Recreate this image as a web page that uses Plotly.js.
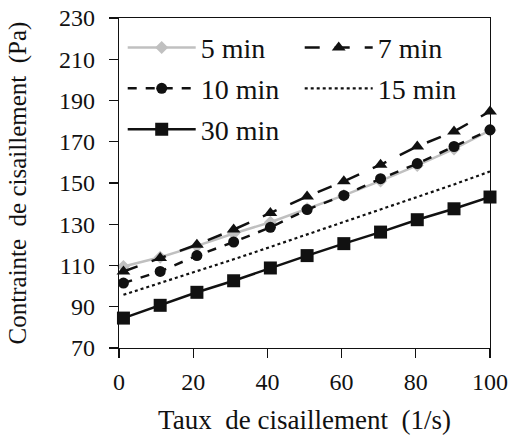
<!DOCTYPE html>
<html>
<head>
<meta charset="utf-8">
<script src="https://cdn.plot.ly/plotly-3.0.1.min.js"></script>
<style>html,body{margin:0;padding:0;background:#fff;}#chart{width:522px;height:442px;}</style>
</head>
<body>
<div id="chart"></div>
<script>
// Shear rate (1/s)
const shearRate = [1.2, 11.1, 21.0, 30.9, 40.8, 50.7, 60.6, 70.5, 80.4, 90.3, 100];
// Shear stress (Pa) per resting time
const stress5  = [109.5, 114.0, 119.5, 125.5, 131.0, 137.5, 144.0, 151.0, 158.5, 166.5, 175.5];
const stress7  = [107.1, 113.6, 120.1, 127.4, 135.5, 143.5, 150.8, 158.9, 167.7, 175.0, 184.7];
const stress10 = [101.5, 107.1, 114.8, 121.4, 128.5, 137.1, 144.0, 152.1, 159.4, 167.7, 175.8];
const stress15 = [95.8, 101.5, 107.3, 113.0, 119.0, 125.0, 131.0, 137.0, 143.0, 149.3, 155.6];
const stress30 = [84.5, 90.7, 97.0, 102.6, 108.8, 114.8, 120.6, 126.2, 132.2, 137.5, 143.2];
const seriesNames = ["5 min", "7 min", "10 min", "15 min", "30 min"];
const xTicks = [0, 20, 40, 60, 80, 100];
const yTicks = [70, 90, 110, 130, 150, 170, 190, 210, 230];

const FONT = "Liberation Serif";
const mkFont = (s) => ({family: FONT, size: s, color: "#111"});

const traces = [
  {x: shearRate, y: stress5, name: seriesNames[0], legend: "legend", mode: "lines+markers",
   line: {color: "#c0c0c0", width: 2.5}, marker: {symbol: "diamond", size: 10, color: "#c0c0c0"}},
  {x: shearRate, y: stress7, name: seriesNames[1], legend: "legend", mode: "lines+markers",
   line: {color: "#111", width: 2.5, dash: "longdash"}, marker: {symbol: "triangle-up", size: 12, color: "#111"}},
  {x: shearRate, y: stress10, name: seriesNames[2], legend: "legend2", mode: "lines+markers",
   line: {color: "#111", width: 2.5, dash: "dash"}, marker: {symbol: "circle", size: 11, color: "#111"}},
  {x: shearRate, y: stress15, name: seriesNames[3], legend: "legend2", mode: "lines",
   line: {color: "#111", width: 2.2, dash: "dot"}},
  {x: shearRate, y: stress30, name: seriesNames[4], legend: "legend3", mode: "lines+markers",
   line: {color: "#111", width: 2.5}, marker: {symbol: "square", size: 13, color: "#111"}}
];
traces.forEach(t => t.cliponaxis = false);

const mkLegend = (yy) => ({
  orientation: "h", xanchor: "left", yanchor: "middle", x: 0.01, y: yy,
  bgcolor: "rgba(0,0,0,0)", font: mkFont(28),
  itemwidth: 68, entrywidth: 94, entrywidthmode: "pixels", traceorder: "normal"
});

const layout = {
  width: 522, height: 442,
  margin: {l: 119, r: 32, t: 18, b: 94},
  paper_bgcolor: "#fff", plot_bgcolor: "#fff",
  font: mkFont(24),
  showlegend: true,
  legend:  mkLegend(0.91),
  legend2: mkLegend(0.786),
  legend3: mkLegend(0.662),
  xaxis: {
    range: [0, 100], tickvals: xTicks, ticktext: xTicks.map(String),
    showgrid: false, zeroline: false,
    showline: true, linecolor: "#111", linewidth: 1.3, mirror: true,
    ticks: "outside", ticklen: 9, tickwidth: 1.3, tickcolor: "#111",
    tickfont: mkFont(24), ticklabelstandoff: 3,
    title: {text: "Taux\u00a0 de cisaillement\u00a0 (1/s)", font: mkFont(27), standoff: 16}
  },
  yaxis: {
    range: [70, 230], tickvals: yTicks, ticktext: yTicks.map(String),
    showgrid: false, zeroline: false,
    showline: true, linecolor: "#111", linewidth: 1.3, mirror: true,
    ticks: "outside", ticklen: 9, tickwidth: 1.3, tickcolor: "#111",
    tickfont: mkFont(24), ticklabelstandoff: 9,
    title: {text: "Contrainte\u00a0 de cisaillement\u00a0 (Pa)", font: mkFont(25), standoff: 25}
  }
};

Plotly.newPlot("chart", traces, layout, {staticPlot: true, displayModeBar: false});
</script>
</body>
</html>
